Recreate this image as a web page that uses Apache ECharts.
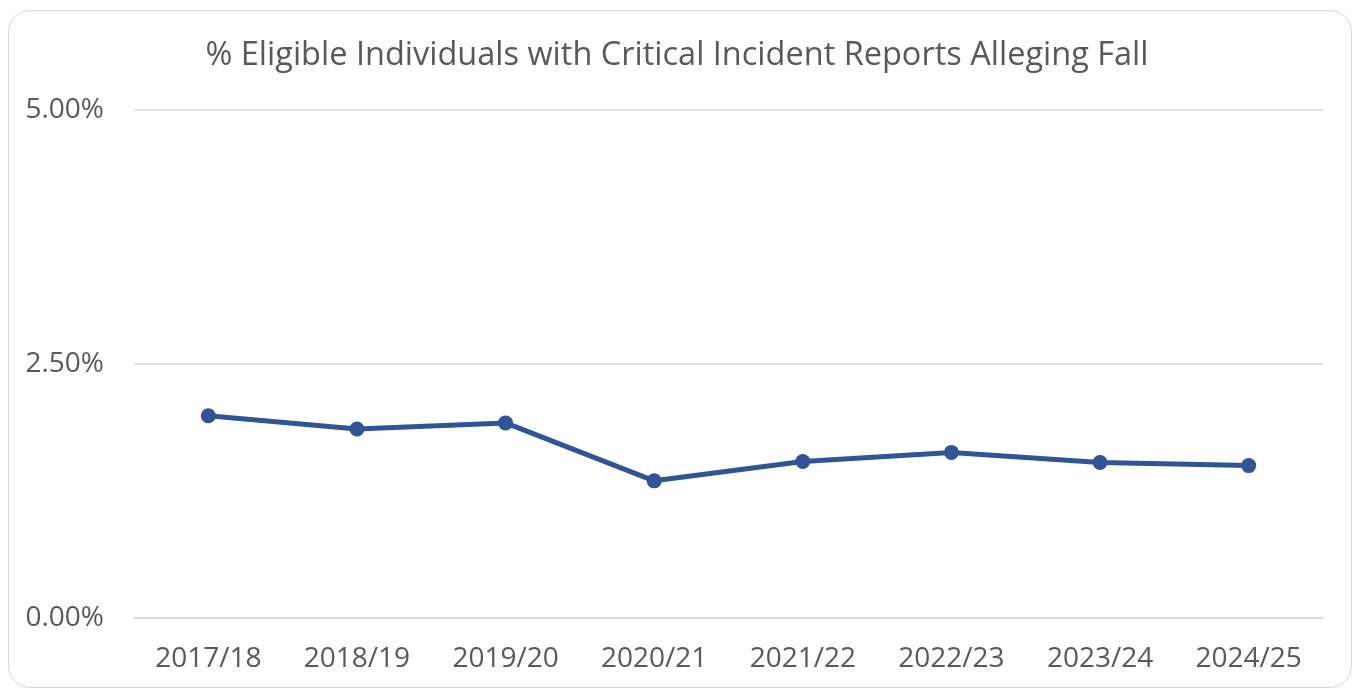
<!DOCTYPE html>
<html>
<head>
<meta charset="utf-8">
<script src="https://cdn.jsdelivr.net/npm/echarts@6/dist/echarts.min.js"></script>
<style>
    body { margin: 0; background: #fff; }
    #frame {
        position: absolute; left: 8px; top: 10px; width: 1344px; height: 678px;
        border: 1.5px solid #d9d9d9; border-radius: 22px; box-sizing: border-box;
    }
    #chart { position: absolute; left: 0; top: 0; width: 1354px; height: 690px; }
</style>
</head>
<body>
<div id="frame"></div>
<div id="chart"></div>
<script>
const categories = ["2017/18", "2018/19", "2019/20", "2020/21", "2021/22", "2022/23", "2023/24", "2024/25"]
const fallRate = [1.99, 1.86, 1.92, 1.35, 1.54, 1.63, 1.53, 1.50]
const yTicks = [0, 2.5, 5]

const textColor = "#595959"
const font = "'Open Sans', 'Liberation Sans', sans-serif"

let myChart = echarts.init(document.getElementById("chart"))
myChart.setOption({
    title: {
        text: "% Eligible Individuals with Critical Incident Reports Alleging Fall",
        left: "center",
        top: 34,
        textStyle: {
            color: textColor,
            fontFamily: font,
            fontWeight: "normal",
            fontSize: 32.5,
        },
    },
    grid: {
        left: 134,
        right: 31,
        top: 110,
        bottom: 72,
    },
    xAxis: {
        type: "category",
        data: categories,
        boundaryGap: true,
        axisLine: { lineStyle: { color: "#d9d9d9", width: 1.5 } },
        axisTick: { show: false },
        axisLabel: {
            color: textColor,
            fontFamily: font,
            fontSize: 28,
            margin: 27,
        },
    },
    yAxis: {
        type: "value",
        min: yTicks[0],
        max: yTicks[yTicks.length - 1],
        interval: yTicks[1] - yTicks[0],
        axisLine: { show: false },
        axisTick: { show: false },
        splitLine: { lineStyle: { color: "#d9d9d9", width: 1.5 } },
        axisLabel: {
            color: textColor,
            fontFamily: font,
            fontSize: 28,
            margin: 30,
            formatter: (v) => v.toFixed(2) + "%",
        },
    },
    series: [
        {
            type: "line",
            data: fallRate,
            symbol: "circle",
            symbolSize: 15,
            lineStyle: { color: "#2f5597", width: 5 },
            itemStyle: { color: "#2f5597" },
            animation: false,
        },
    ],
})
</script>
</body>
</html>
